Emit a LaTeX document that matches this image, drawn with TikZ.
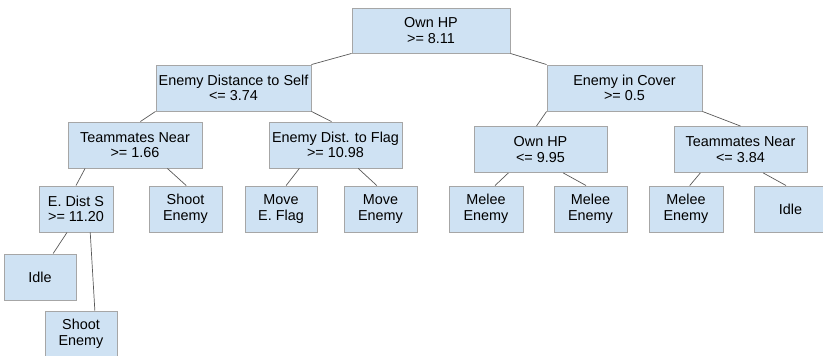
\documentclass[tikz,border=0pt]{standalone}
\usepackage{fontspec}
\setmainfont{Liberation Sans}
\usetikzlibrary{calc}
\definecolor{boxfill}{HTML}{CFE2F3}
\definecolor{boxline}{HTML}{A6A6A6}
\definecolor{edgeline}{HTML}{595959}
\tikzset{
  tbox/.style={draw=boxline, fill=boxfill, line width=0.9pt, inner sep=0pt,
    align=center, minimum height=46pt,
    font=\fontsize{14.4}{15.5}\selectfont},
  wide/.style={tbox, minimum width=155pt},
  mid/.style={tbox, minimum width=133pt},
  leaf/.style={tbox, minimum width=73pt},
  edge/.style={draw=edgeline, line width=0.7pt}
}
\begin{document}
\begin{tikzpicture}[x=1pt, y=-1pt]
\useasboundingbox (0,0) rectangle (823,356);

% decision nodes
\node[tbox, minimum width=158pt, minimum height=45pt] (root) at (431,30.5) {Own HP\\>= 8.11};
\node[wide] (eds) at (233.5,88) {Enemy Distance to Self\\<= 3.74};
\node[wide] (eic) at (624.5,88) {Enemy in Cover\\>= 0.5};
\node[mid, minimum width=134pt] (tn) at (135,145) {Teammates Near\\>= 1.66};
\node[mid] (flag) at (335.5,145) {Enemy Dist. to Flag\\>= 10.98};
\node[mid] (ohp) at (540.5,149.5) {Own HP\\<= 9.95};
\node[mid] (tnb) at (740.5,149.5) {Teammates Near\\<= 3.84};
\node[leaf, minimum width=74pt] (eds2) at (76,209) {E. Dist S\\>= 11.20};

% actions
\node[leaf] (shoota) at (185.5,209) {Shoot\\Enemy};
\node[leaf, minimum width=72pt] (moveflag) at (281,209) {Move\\E. Flag};
\node[leaf] (moveenemy) at (380.5,209) {Move\\Enemy};
\node[leaf, minimum width=74pt] (meleea) at (486,209) {Melee\\Enemy};
\node[leaf] (meleeb) at (590.5,209) {Melee\\Enemy};
\node[leaf, minimum width=74pt] (meleec) at (686,209) {Melee\\Enemy};
\node[leaf] (idleb) at (790.5,209) {Idle};
\node[leaf, minimum width=72pt] (idlea) at (40,277) {Idle};
\node[leaf, minimum width=72pt] (shootb) at (81,334) {Shoot\\Enemy};

% branches
\draw[edge] (root.south west) -- (eds.north east);
\draw[edge] (root.south east) -- (eic.north west);
\draw[edge] (eds.south west) -- ($(tn.north west)!0.54!(tn.north east)$);
\draw[edge] (eds.south east) -- ($(flag.north west)!0.47!(flag.north east)$);
\draw[edge] (eic.south west) -- ($(ohp.north west)!0.47!(ohp.north east)$);
\draw[edge] (eic.south east) -- ($(tnb.north west)!0.50!(tnb.north east)$);
\draw[edge] ($(tn.south west)!0.13!(tn.south east)$) -- ($(eds2.north west)!0.5!(eds2.north east)$);
\draw[edge] ($(tn.south west)!0.74!(tn.south east)$) -- ($(shoota.north west)!0.51!(shoota.north east)$);
\draw[edge] ($(flag.south west)!0.23!(flag.south east)$) -- ($(moveflag.north west)!0.57!(moveflag.north east)$);
\draw[edge] ($(flag.south west)!0.67!(flag.south east)$) -- ($(moveenemy.north west)!0.45!(moveenemy.north east)$);
\draw[edge] ($(ohp.south west)!0.26!(ohp.south east)$) -- ($(meleea.north west)!0.62!(meleea.north east)$);
\draw[edge] ($(ohp.south west)!0.67!(ohp.south east)$) -- ($(meleeb.north west)!0.44!(meleeb.north east)$);
\draw[edge] ($(tnb.south west)!0.20!(tnb.south east)$) -- ($(meleec.north west)!0.55!(meleec.north east)$);
\draw[edge] ($(tnb.south west)!0.67!(tnb.south east)$) -- ($(idleb.north west)!0.44!(idleb.north east)$);
\draw[edge] ($(eds2.south west)!0.38!(eds2.south east)$) -- ($(idlea.north west)!0.68!(idlea.north east)$);
\draw[edge] ($(eds2.south west)!0.69!(eds2.south east)$) -- ($(shootb.north west)!0.69!(shootb.north east)$);
\end{tikzpicture}
\end{document}
